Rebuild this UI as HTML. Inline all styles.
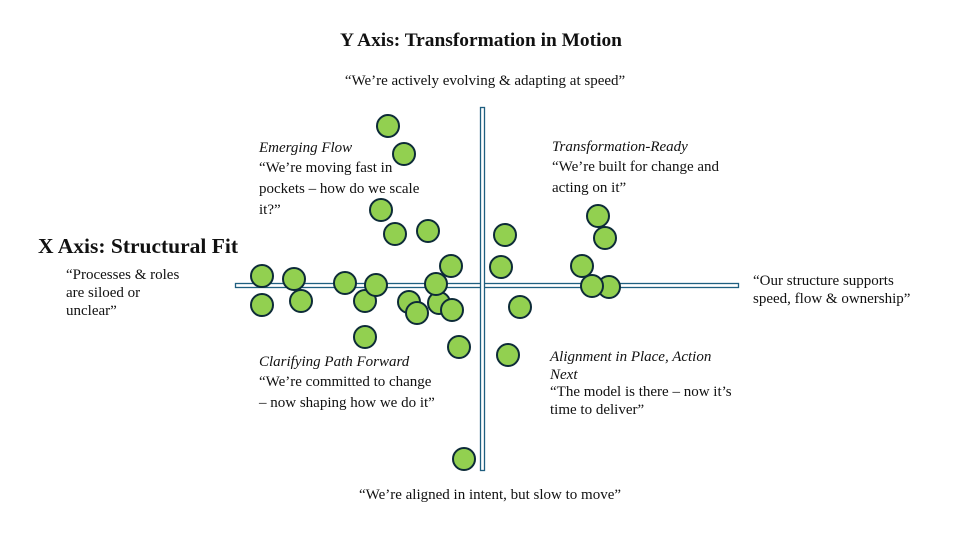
<!DOCTYPE html>
<html><head><meta charset="utf-8"><style>
body{margin:0;background:#fff}
svg{display:block}
text{font-family:"Liberation Serif",serif;fill:#111}
.b{font-size:15px}
.i{font-size:15px;font-style:italic}
.h{font-size:19.4px;font-weight:bold}
.hx{font-size:21.5px;font-weight:bold}
</style></head><body>
<svg width="960" height="540" viewBox="0 0 960 540">
<rect x="235.5" y="283.5" width="503" height="4" fill="#fff" stroke="#1f5f80" stroke-width="1.3"/>
<rect x="480.5" y="107.5" width="4" height="363" fill="#fff" stroke="#1f5f80" stroke-width="1.3"/>
<g fill="#92D050" stroke="#0d2b38" stroke-width="2">
<circle cx="388" cy="126" r="11"/><circle cx="404" cy="154" r="11"/><circle cx="381" cy="210" r="11"/>
<circle cx="395" cy="234" r="11"/><circle cx="428" cy="231" r="11"/><circle cx="451" cy="266" r="11"/>
<circle cx="505" cy="235" r="11"/><circle cx="501" cy="267" r="11"/>
<circle cx="262" cy="276" r="11"/><circle cx="262" cy="305" r="11"/><circle cx="294" cy="279" r="11"/>
<circle cx="301" cy="301" r="11"/><circle cx="345" cy="283" r="11"/><circle cx="365" cy="301" r="11"/>
<circle cx="376" cy="285" r="11"/><circle cx="409" cy="302" r="11"/><circle cx="417" cy="313" r="11"/>
<circle cx="439" cy="303" r="11"/><circle cx="436" cy="284" r="11"/><circle cx="452" cy="310" r="11"/>
<circle cx="365" cy="337" r="11"/><circle cx="459" cy="347" r="11"/><circle cx="520" cy="307" r="11"/>
<circle cx="508" cy="355" r="11"/><circle cx="464" cy="459" r="11"/>
<circle cx="598" cy="216" r="11"/><circle cx="605" cy="238" r="11"/><circle cx="582" cy="266" r="11"/>
<circle cx="609" cy="287" r="11"/><circle cx="592" cy="286" r="11"/>
</g>
<text class="h" x="481" y="46" text-anchor="middle">Y Axis: Transformation in Motion</text>
<text class="b" x="485" y="85" text-anchor="middle">“We’re actively evolving &amp; adapting at speed”</text>
<text class="b" x="490" y="499" text-anchor="middle">“We’re aligned in intent, but slow to move”</text>
<text class="hx" x="38" y="253">X Axis: Structural Fit</text>
<text class="b" x="66" y="279">“Processes &amp; roles</text>
<text class="b" x="66" y="297">are siloed or</text>
<text class="b" x="66" y="315">unclear”</text>
<text class="b" x="753" y="285">“Our structure supports</text>
<text class="b" x="753" y="303">speed, flow &amp; ownership”</text>
<text class="i" x="259" y="152">Emerging Flow</text>
<text class="b" x="259" y="172">“We’re moving fast in</text>
<text class="b" x="259" y="193">pockets – how do we scale</text>
<text class="b" x="259" y="214">it?”</text>
<text class="i" x="552" y="151">Transformation-Ready</text>
<text class="b" x="552" y="171">“We’re built for change and</text>
<text class="b" x="552" y="192">acting on it”</text>
<text class="i" x="259" y="366">Clarifying Path Forward</text>
<text class="b" x="259" y="386">“We’re committed to change</text>
<text class="b" x="259" y="407">– now shaping how we do it”</text>
<text class="i" x="550" y="361">Alignment in Place, Action</text>
<text class="i" x="550" y="379">Next</text>
<text class="b" x="550" y="396">“The model is there – now it’s</text>
<text class="b" x="550" y="414">time to deliver”</text>
</svg>
</body></html>
